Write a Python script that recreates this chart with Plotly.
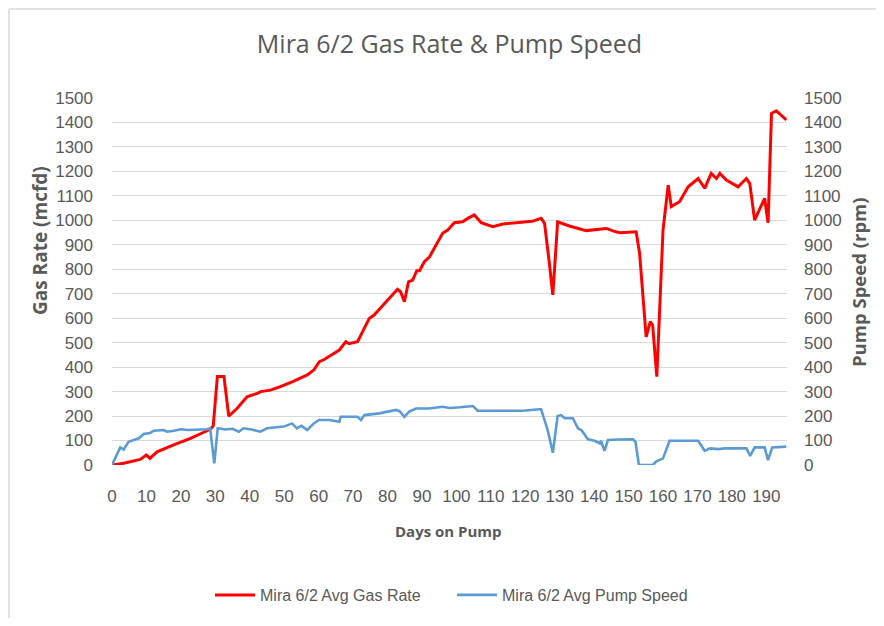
import plotly.graph_objects as go

# ---- data ----
gas_days = [0, 3.4, 8.2, 10, 11, 13.1, 17.9, 22.8, 27.6, 28.8, 29.4, 30.6, 32.5, 33.9,
            36.3, 39.2, 42.2, 43.2, 46, 48.9, 52.3, 54.7, 56.7, 58.6, 60.2, 61.5, 63.1,
            66, 67.9, 68.8, 71.3, 72.8, 74.7, 76.1, 79.1, 81, 82.9, 83.8, 84.9, 86.1,
            87.3, 88.5, 89.3, 90.7, 92.2, 96, 97.5, 99.4, 101.8, 103.3, 105.2, 107.2,
            110.6, 113.5, 116, 119.3, 122, 124.6, 125.6, 127, 128, 129.4, 132.8, 137.7,
            143.5, 145.9, 147.4, 152.2, 153.2, 155.1, 156.3, 157, 158.2, 160, 161.5,
            162.4, 164.8, 167.3, 170.2, 172.1, 174, 175.5, 176.5, 178.4, 181.8, 184.2,
            185.2, 186.6, 189.5, 190.5, 191.5, 192.9, 195.8]
gas_rate = [0, 7, 23, 41, 27, 54, 82, 109, 140, 150, 160, 362, 362, 200,
            231, 279, 293, 300, 306, 320, 340, 354, 368, 388, 422, 430, 443,
            470, 504, 496, 504, 545, 599, 613, 661, 688, 718, 708, 667, 749,
            756, 794, 794, 831, 851, 947, 960, 990, 994, 1008, 1022, 990,
            974, 985, 988, 994, 996, 1008, 988, 824, 695, 994, 977, 958,
            967, 955, 949, 953, 865, 524, 586, 570, 361, 960, 1144,
            1056, 1076, 1137, 1171, 1131, 1192, 1171, 1192, 1165, 1137, 1171,
            1150, 1001, 1090, 990, 1437, 1448, 1410]

pump_days = [0, 2.4, 3.4, 4.8, 7.8, 9.2, 11.1, 12.1, 15, 16, 18, 20, 22, 25, 27.6, 28.5,
             29.7, 30.7, 33, 35, 36.8, 38.2, 40.5, 43.1, 45, 49.9, 52.3, 53.7, 55, 56.7,
             58.6, 60.1, 63.1, 66, 66.4, 71.3, 72.3, 73.3, 77.6, 82.5, 83.5, 84.9, 86.3,
             88.3, 92, 96, 98, 101, 104.8, 106.2, 119.3, 124.1, 124.6, 126.5, 128, 129.4,
             130.4, 131.4, 133.8, 135.3, 136.3, 138.2, 140.1, 141.6, 142, 143, 144, 147,
             151.3, 152, 153, 157, 158, 160, 161, 161.9, 170.2, 172.1, 173.6, 176, 178,
             184.2, 185.3, 186.6, 189.5, 190.5, 191.7, 195.8]
pump_speed = [0, 72, 63, 95, 109, 127, 131, 140, 143, 136, 140, 146, 143, 146, 146, 150,
              7, 150, 145, 148, 136, 150, 145, 136, 150, 157, 170, 150, 160, 143,
              170, 184, 184, 177, 197, 197, 184, 204, 211, 225, 220, 197, 218,
              231, 231, 238, 233, 236, 241, 222, 222, 228, 228, 143, 50, 200,
              204, 191, 191, 150, 143, 105, 99, 89, 99, 58, 102, 104,
              105, 95, 0, 0, 14, 27, 61, 99, 99, 58, 68, 65, 68,
              68, 37, 72, 72, 20, 72, 75]

x_ticks = list(range(0, 200, 10))
y_ticks = list(range(0, 1600, 100))

title_text = "Mira 6/2 Gas Rate & Pump Speed"
series_names = ["Mira 6/2 Avg Gas Rate", "Mira 6/2 Avg Pump Speed"]

GREY = "#595959"
TICKF = "Liberation Sans, Arial, sans-serif"
BOLDF = "Open Sans, Noto Sans, sans-serif"

fig = go.Figure()
fig.add_trace(go.Scatter(x=gas_days, y=gas_rate, mode="lines", name=series_names[0],
                         line=dict(color="#FF0000", width=3)))
fig.add_trace(go.Scatter(x=pump_days, y=pump_speed, mode="lines", name=series_names[1],
                         yaxis="y2", line=dict(color="#5B9BD5", width=2.6)))

OFF = 8  # page body margin offset
W, H = 884 - 2 * OFF, 626 - 2 * OFF
L = 112 - OFF
T = 98 - OFF
R = W - (787 - OFF)
B = H - (465 - OFF)
pw, ph = W - L - R, H - T - B


def px(x):
    return (x - OFF - L) / pw


def py(y):
    return (H - B - (y - OFF)) / ph


fig.update_layout(
    width=W, height=H,
    margin=dict(l=L, r=R, t=T, b=B, pad=0, autoexpand=False),
    paper_bgcolor="white", plot_bgcolor="white",
    font=dict(family=TICKF, color=GREY, size=17),
    title=dict(text=title_text, x=0.5, xref="paper", xanchor="center",
               y=1 - (44 - OFF) / H, yref="container", yanchor="middle",
               font=dict(family=BOLDF, size=25, color=GREY)),
    xaxis=dict(range=[0, 196], tickvals=x_ticks, showgrid=False, zeroline=False,
               showline=False, ticks="", ticklabelstandoff=19, tickangle=0,
               automargin=False,
               tickfont=dict(family=TICKF, size=17, color=GREY)),
    yaxis=dict(range=[0, 1500], tickvals=y_ticks, showgrid=True, gridcolor="#d9d9d9",
               gridwidth=1, zeroline=False, showline=False, ticks="",
               ticklabelstandoff=18, automargin=False,
               tickfont=dict(family=TICKF, size=17, color=GREY)),
    yaxis2=dict(range=[0, 1500], tickvals=y_ticks, overlaying="y", side="right",
                showgrid=False, zeroline=False, showline=False, ticks="",
                ticklabelstandoff=16, automargin=False,
                tickfont=dict(family=TICKF, size=17, color=GREY)),
    legend=dict(orientation="h", x=px(210), xanchor="left", y=py(595), yanchor="middle",
                font=dict(family=TICKF, size=16, color=GREY), itemwidth=40,
                entrywidth=187, entrywidthmode="pixels",
                bgcolor="rgba(0,0,0,0)"),
    showlegend=True,
)

fig.add_annotation(text="<b>Days on Pump</b>", x=px(448), y=py(531), xref="paper", yref="paper",
                   showarrow=False, xanchor="center", yanchor="middle",
                   font=dict(family=BOLDF, size=15, color=GREY))
fig.add_annotation(text="<b>Gas Rate (mcfd)</b>", x=px(40), y=py(241), xref="paper", yref="paper",
                   showarrow=False, textangle=-90, xanchor="center", yanchor="middle",
                   font=dict(family=BOLDF, size=19, color=GREY))
fig.add_annotation(text="<b>Pump Speed (rpm)</b>", x=px(858), y=py(282), xref="paper", yref="paper",
                   showarrow=False, textangle=-90, xanchor="center", yanchor="middle",
                   font=dict(family=BOLDF, size=18.5, color=GREY))

# outer chart frame (top and left edges visible in the reference)
fig.add_shape(type="line", xref="paper", yref="paper", x0=px(9), x1=px(884), y0=py(9), y1=py(9),
              line=dict(color="#d9d9d9", width=1.5))
fig.add_shape(type="line", xref="paper", yref="paper", x0=px(9), x1=px(9), y0=py(9), y1=py(626),
              line=dict(color="#d9d9d9", width=1.5))

fig.write_html("out.html")
